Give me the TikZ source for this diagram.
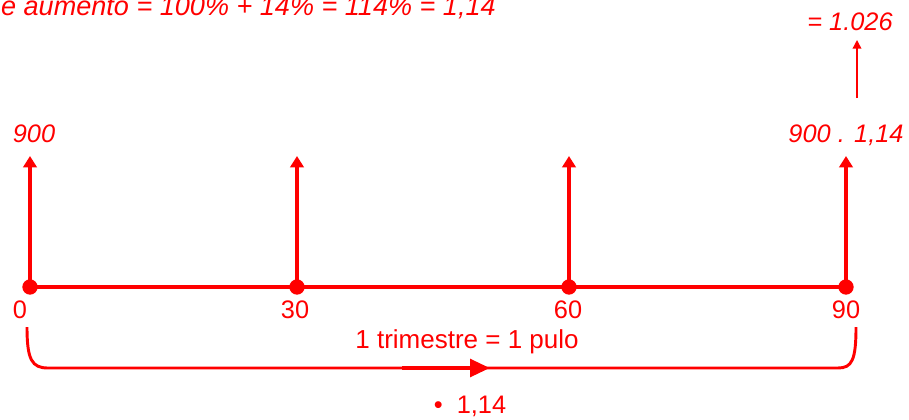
\documentclass[tikz,border=0pt]{standalone}
\usepackage{fontspec}
\setmainfont{Liberation Sans}
\usetikzlibrary{arrows.meta}
\definecolor{pured}{RGB}{255,0,0}
\begin{document}
\begin{tikzpicture}[x=0.75pt,y=-0.75pt,
  every node/.style={text=pured,font=\fontsize{19}{22}\selectfont,inner sep=0pt},
  dot/.style={circle,fill=pured,minimum size=11.5pt,inner sep=0pt},
  axisline/.style={draw=pured,line width=3.6pt},
  uparrow/.style={draw=pured,line width=3.2pt,-{Triangle[length=8.5pt,width=10pt]}},
  thinarrow/.style={draw=pured,line width=1.1pt,-{Triangle[length=6.5pt,width=6.5pt]}},
  bracketline/.style={draw=pured,line width=2.2pt},
  midarrow/.style={draw=pured,line width=3.4pt,-{Triangle[length=15pt,width=13pt]}},
  lbl/.style={anchor=base},
  ilbl/.style={anchor=base,font=\fontsize{19}{22}\selectfont\itshape}]
\clip (0,0) rectangle (909,419);
% top text (cut off by the frame, as in the reference)
\node[ilbl,anchor=base east,font=\fontsize{20.3}{24}\selectfont\itshape] (toptext) at (496,15) {e aumento = 100\% + 14\% = 114\% = 1,14};
% axis
\node[dot] (d0) at (30,287) {};
\node[dot] (d30) at (297,287) {};
\node[dot] (d60) at (569,287) {};
\node[dot] (d90) at (846,287) {};
\draw[axisline] (d0.center) -- (d90.center);
% vertical arrows
\coordinate (t0) at (30,156);
\coordinate (t30) at (297,156);
\coordinate (t60) at (569,156);
\coordinate (t90) at (846,156);
\draw[uparrow] (d0.center) -- (t0);
\draw[uparrow] (d30.center) -- (t30);
\draw[uparrow] (d60.center) -- (t60);
\draw[uparrow] (d90.center) -- (t90);
% value labels
\node[ilbl] (v0) at (34,142) {900};
\node[ilbl] (v90) at (846,142) {900 . 1,14};
\node[ilbl] (res) at (850,30) {= 1.026};
\coordinate (tb) at (857,98);
\coordinate (tt) at (857,40);
\draw[thinarrow] (tb) -- (tt);
% tick labels
\node[lbl] (l0) at (20,318) {0};
\node[lbl] (l30) at (295,318) {30};
\node[lbl] (l60) at (568,318) {60};
\node[lbl] (l90) at (846,318) {90};
% bracket
\coordinate (bl) at (27,327);
\coordinate (br) at (856,327);
\draw[bracketline] (bl) .. controls (27,360) and (32,368) .. (48,368) -- (838,368) .. controls (852,368) and (856,360) .. (br);
\coordinate (ma) at (402,368);
\coordinate (mb) at (490,368);
\draw[midarrow] (ma) -- (mb);
\node[lbl,font=\fontsize{19.5}{22}\selectfont] (trim) at (467,348) {1 trimestre = 1 pulo};
\node[lbl] (fac) at (470,413) {\textbullet\ \ 1,14};
\end{tikzpicture}
\end{document}
